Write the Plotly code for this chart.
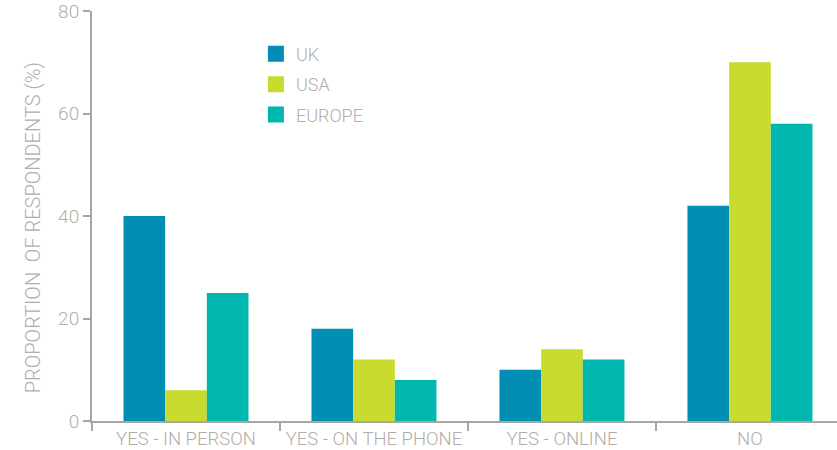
import plotly.graph_objects as go

categories = ["YES - IN PERSON", "YES - ON THE PHONE", "YES - ONLINE", "NO"]
uk = [40, 18, 10, 42]
usa = [6, 12, 14, 70]
europe = [25, 8, 12, 58]
series_names = ["UK", "USA", "EUROPE"]
colors = ["#008eb3", "#c9db2e", "#00b7af"]
y_ticks = [0, 20, 40, 60, 80]

grey_text = "#b3ada8"
grey_line = "#aaa5a0"
FONT = "Roboto"

fig = go.Figure()
for name, vals, col in zip(series_names, [uk, usa, europe], colors):
    fig.add_trace(go.Bar(x=categories, y=vals, name=name, marker_color=col,
                         marker_line_width=0, showlegend=False))
    fig.add_trace(go.Scatter(x=[None], y=[None], mode="markers", name=name,
                             marker=dict(symbol="square", size=16, color=col),
                             legendgroup=name, showlegend=True))

fig.update_layout(
    width=837, height=450,
    margin=dict(l=92, r=0, t=10, b=25),
    paper_bgcolor="white", plot_bgcolor="white",
    barmode="group", bargap=0.335, bargroupgap=0,
    font=dict(family=FONT, color=grey_text, size=18, weight=300),
    legend=dict(x=0.22, y=0.94, xanchor="left", yanchor="top",
                itemsizing="trace", tracegroupgap=4,
                font=dict(size=18, color=grey_text, family=FONT, weight=300),
                bgcolor="rgba(0,0,0,0)"),
    xaxis=dict(range=[-0.5, 3.463], showline=True, linecolor=grey_line, linewidth=2,
               ticks="outside", tickson="boundaries", ticklen=8, tickcolor=grey_line,
               tickwidth=2, showgrid=False, zeroline=False, ticklabeloverflow="allow",
               tickfont=dict(size=18.5, color=grey_text, family=FONT, weight=300)),
    yaxis=dict(range=[0, 80], tickvals=y_ticks, showline=True, linecolor=grey_line,
               linewidth=2, ticks="outside", ticklen=7, tickcolor=grey_line, tickwidth=2,
               showgrid=False, zeroline=False, ticklabeloverflow="allow",
               tickfont=dict(size=19, color=grey_text, family=FONT, weight=300)),
    annotations=[dict(text="PROPORTION  OF RESPONDENTS (%)", textangle=-90,
                      xref="paper", yref="paper", x=-0.08, y=0.471,
                      xanchor="center", yanchor="middle", showarrow=False,
                      font=dict(size=20, color=grey_text, family=FONT, weight=300))],
)

fig.write_html("out.html", config={"displayModeBar": False},
               post_script="document.body.style.margin='0';")
